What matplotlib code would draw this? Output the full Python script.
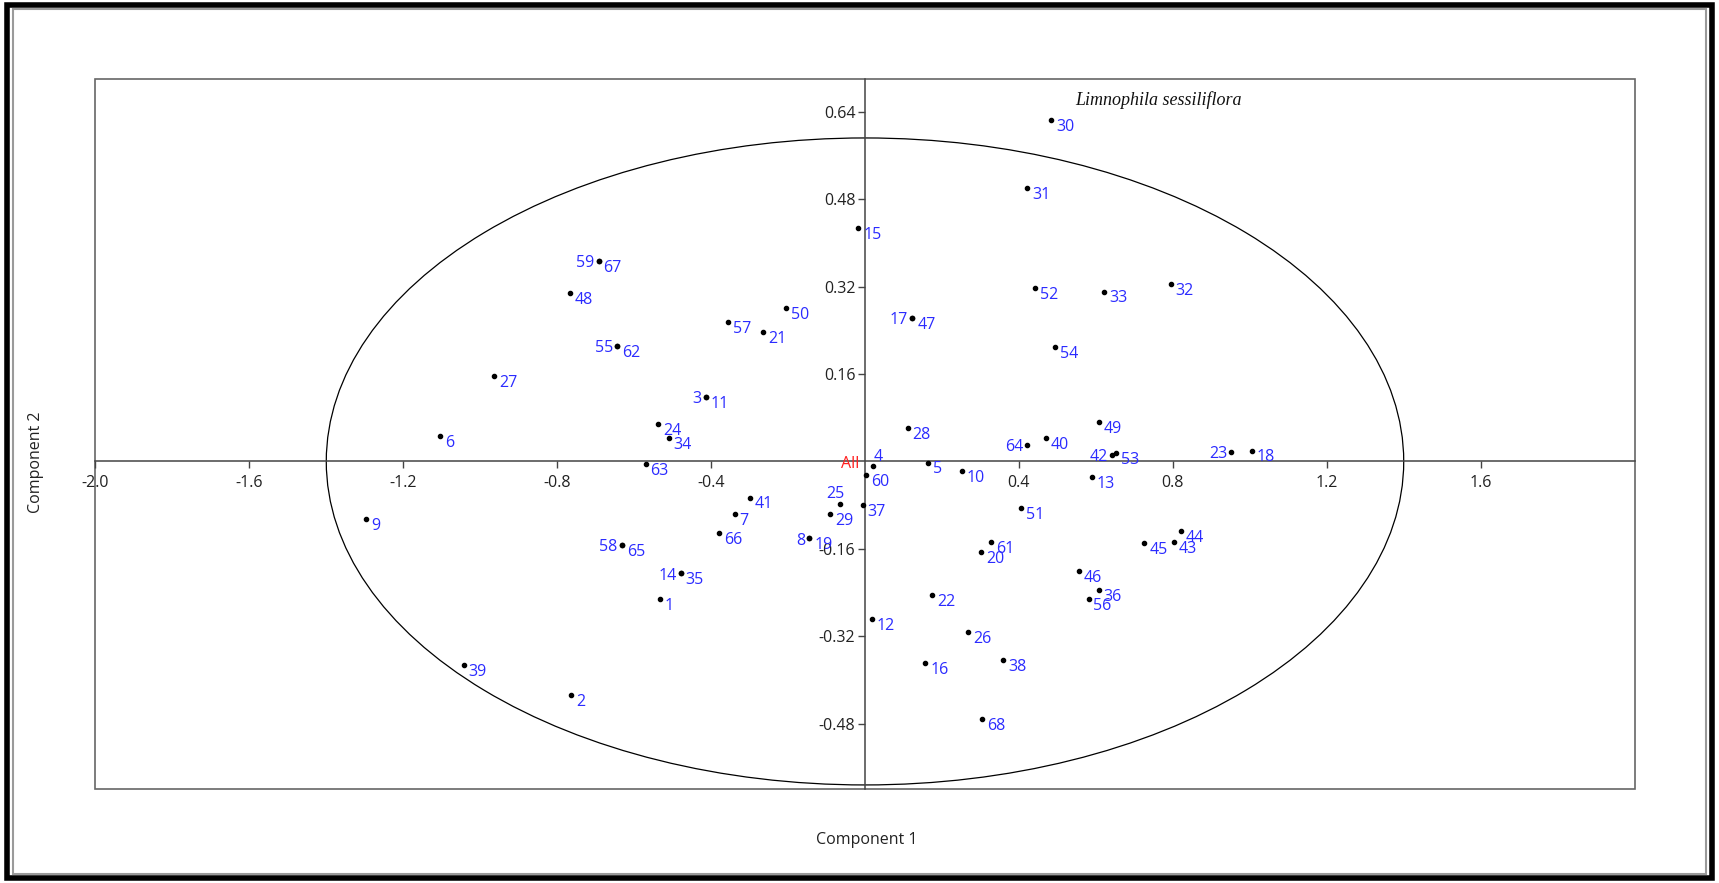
import numpy as np
import matplotlib.pyplot as plt
from matplotlib.patches import Ellipse, Rectangle

plt.rcParams['font.family'] = ['Open Sans', 'DejaVu Sans']
plt.rcParams['axes.unicode_minus'] = False

samples = list(range(1, 69))
comp1 = [-0.533, -0.764, -0.413, 0.020, 0.165, -1.105, -0.339, -0.145, -1.296, 0.251,
         -0.413, 0.017, 0.590, -0.479, -0.017, 0.157, 0.123, 1.006, -0.145, 0.302,
         -0.265, 0.174, 0.952, -0.538, -0.066, 0.268, -0.963, 0.111, -0.091, 0.484,
         0.422, 0.795, 0.621, -0.510, -0.479, 0.607, -0.006, 0.359, -1.043, 0.470,
         -0.299, 0.642, 0.803, 0.821, 0.726, 0.556, 0.123, -0.766, 0.607, -0.205,
         0.405, 0.442, 0.652, 0.493, -0.644, 0.581, -0.356, -0.632, -0.692, 0.003,
         0.328, -0.644, -0.570, 0.422, -0.632, -0.379, -0.692, 0.305]
comp2 = [-0.251, -0.428, 0.118, -0.008, -0.002, 0.046, -0.096, -0.141, -0.106, -0.018,
         0.118, -0.289, -0.028, -0.205, 0.428, -0.369, 0.263, 0.020, -0.141, -0.165,
         0.237, -0.245, 0.018, 0.068, -0.078, -0.313, 0.157, 0.062, -0.096, 0.624,
         0.500, 0.325, 0.311, 0.042, -0.205, -0.235, -0.080, -0.363, -0.373, 0.042,
         -0.066, 0.012, -0.147, -0.127, -0.149, -0.201, 0.263, 0.309, 0.072, 0.281,
         -0.086, 0.317, 0.016, 0.209, 0.211, -0.251, 0.255, -0.153, 0.367, -0.024,
         -0.147, 0.211, -0.004, 0.030, -0.153, -0.131, 0.367, -0.472]
label_side = ['r'] * 68
for n in [3, 8, 14, 17, 23, 42, 55, 58, 59, 64]:
    label_side[n - 1] = 'l'
label_side[4 - 1] = 'u'
label_side[25 - 1] = 'ul'

xticks = [-2.0, -1.6, -1.2, -0.8, -0.4, 0.4, 0.8, 1.2, 1.6]
yticks = [-0.48, -0.32, -0.16, 0.16, 0.32, 0.48, 0.64]

fig = plt.figure(figsize=(17.19, 8.83), dpi=100)
ax = fig.add_axes([0.0555, 0.1061, 0.8954, 0.8045])
ax.set_xlim(-2.0, 2.0)
ax.set_ylim(-0.60, 0.70)

# axes crossing at zero, frame drawn separately
for s in ['top', 'right']:
    ax.spines[s].set_visible(False)
ax.spines['left'].set_position('zero')
ax.spines['bottom'].set_position('zero')
ax.spines['left'].set_color('#444444')
ax.spines['bottom'].set_color('#444444')
ax.spines['left'].set_linewidth(1.1)
ax.spines['bottom'].set_linewidth(1.1)
ax.add_patch(Rectangle((0, 0), 1, 1, transform=ax.transAxes, fill=False,
                       ec='#666666', lw=1.2, clip_on=False))

ax.set_xticks(xticks)
ax.set_xticklabels([f'{v:.1f}' for v in xticks])
ax.set_yticks(yticks)
ax.set_yticklabels([f'{v:.2f}' for v in yticks])
ax.tick_params(axis='both', direction='out', length=5, width=1, color='#444444',
               labelsize=11.5, labelcolor='#222222')
ax.tick_params(axis='x', pad=5)
ax.tick_params(axis='y', pad=2)

ax.add_patch(Ellipse((0, 0), 2 * 1.40, 2 * 0.592, fill=False, ec='black', lw=0.9))

ax.scatter(comp1, comp2, s=9, color='black', zorder=3)

offsets = {'r': ((3.5, -5), 'left'), 'l': ((-3, -1.5), 'right'),
           'u': ((1, 6), 'left'), 'ul': ((-3, 7), 'center')}
for n, x, y, side in zip(samples, comp1, comp2, label_side):
    off, ha = offsets[side]
    ax.annotate(str(n), (x, y), xytext=off, textcoords='offset points',
                ha=ha, va='center', color='#2b2bff', fontsize=11.5)

ax.annotate('All', (0, 0), xytext=(-4, -1.5), textcoords='offset points',
            ha='right', va='center', color='#ff2020', fontsize=11.5)

ax.text(0.547, 0.661, 'Limnophila sessiliflora', fontsize=13, style='italic',
        family=['Liberation Serif', 'DejaVu Serif'], ha='left', va='center', color='#111111')

fig.text(0.504, 0.049, 'Component 1', ha='center', va='center', fontsize=11.5, color='#222222')
fig.text(0.021, 0.477, 'Component 2', ha='center', va='center', rotation=90,
         fontsize=11.5, color='#222222')

# screenshot border
fig.add_artist(Rectangle((0.004, 0.006), 0.992, 0.988, transform=fig.transFigure,
                         fill=False, ec='black', lw=4))
fig.add_artist(Rectangle((0.0075, 0.0105), 0.985, 0.979, transform=fig.transFigure,
                         fill=False, ec='#9a9a9a', lw=1.5))

fig.savefig('out.png', dpi=100)
